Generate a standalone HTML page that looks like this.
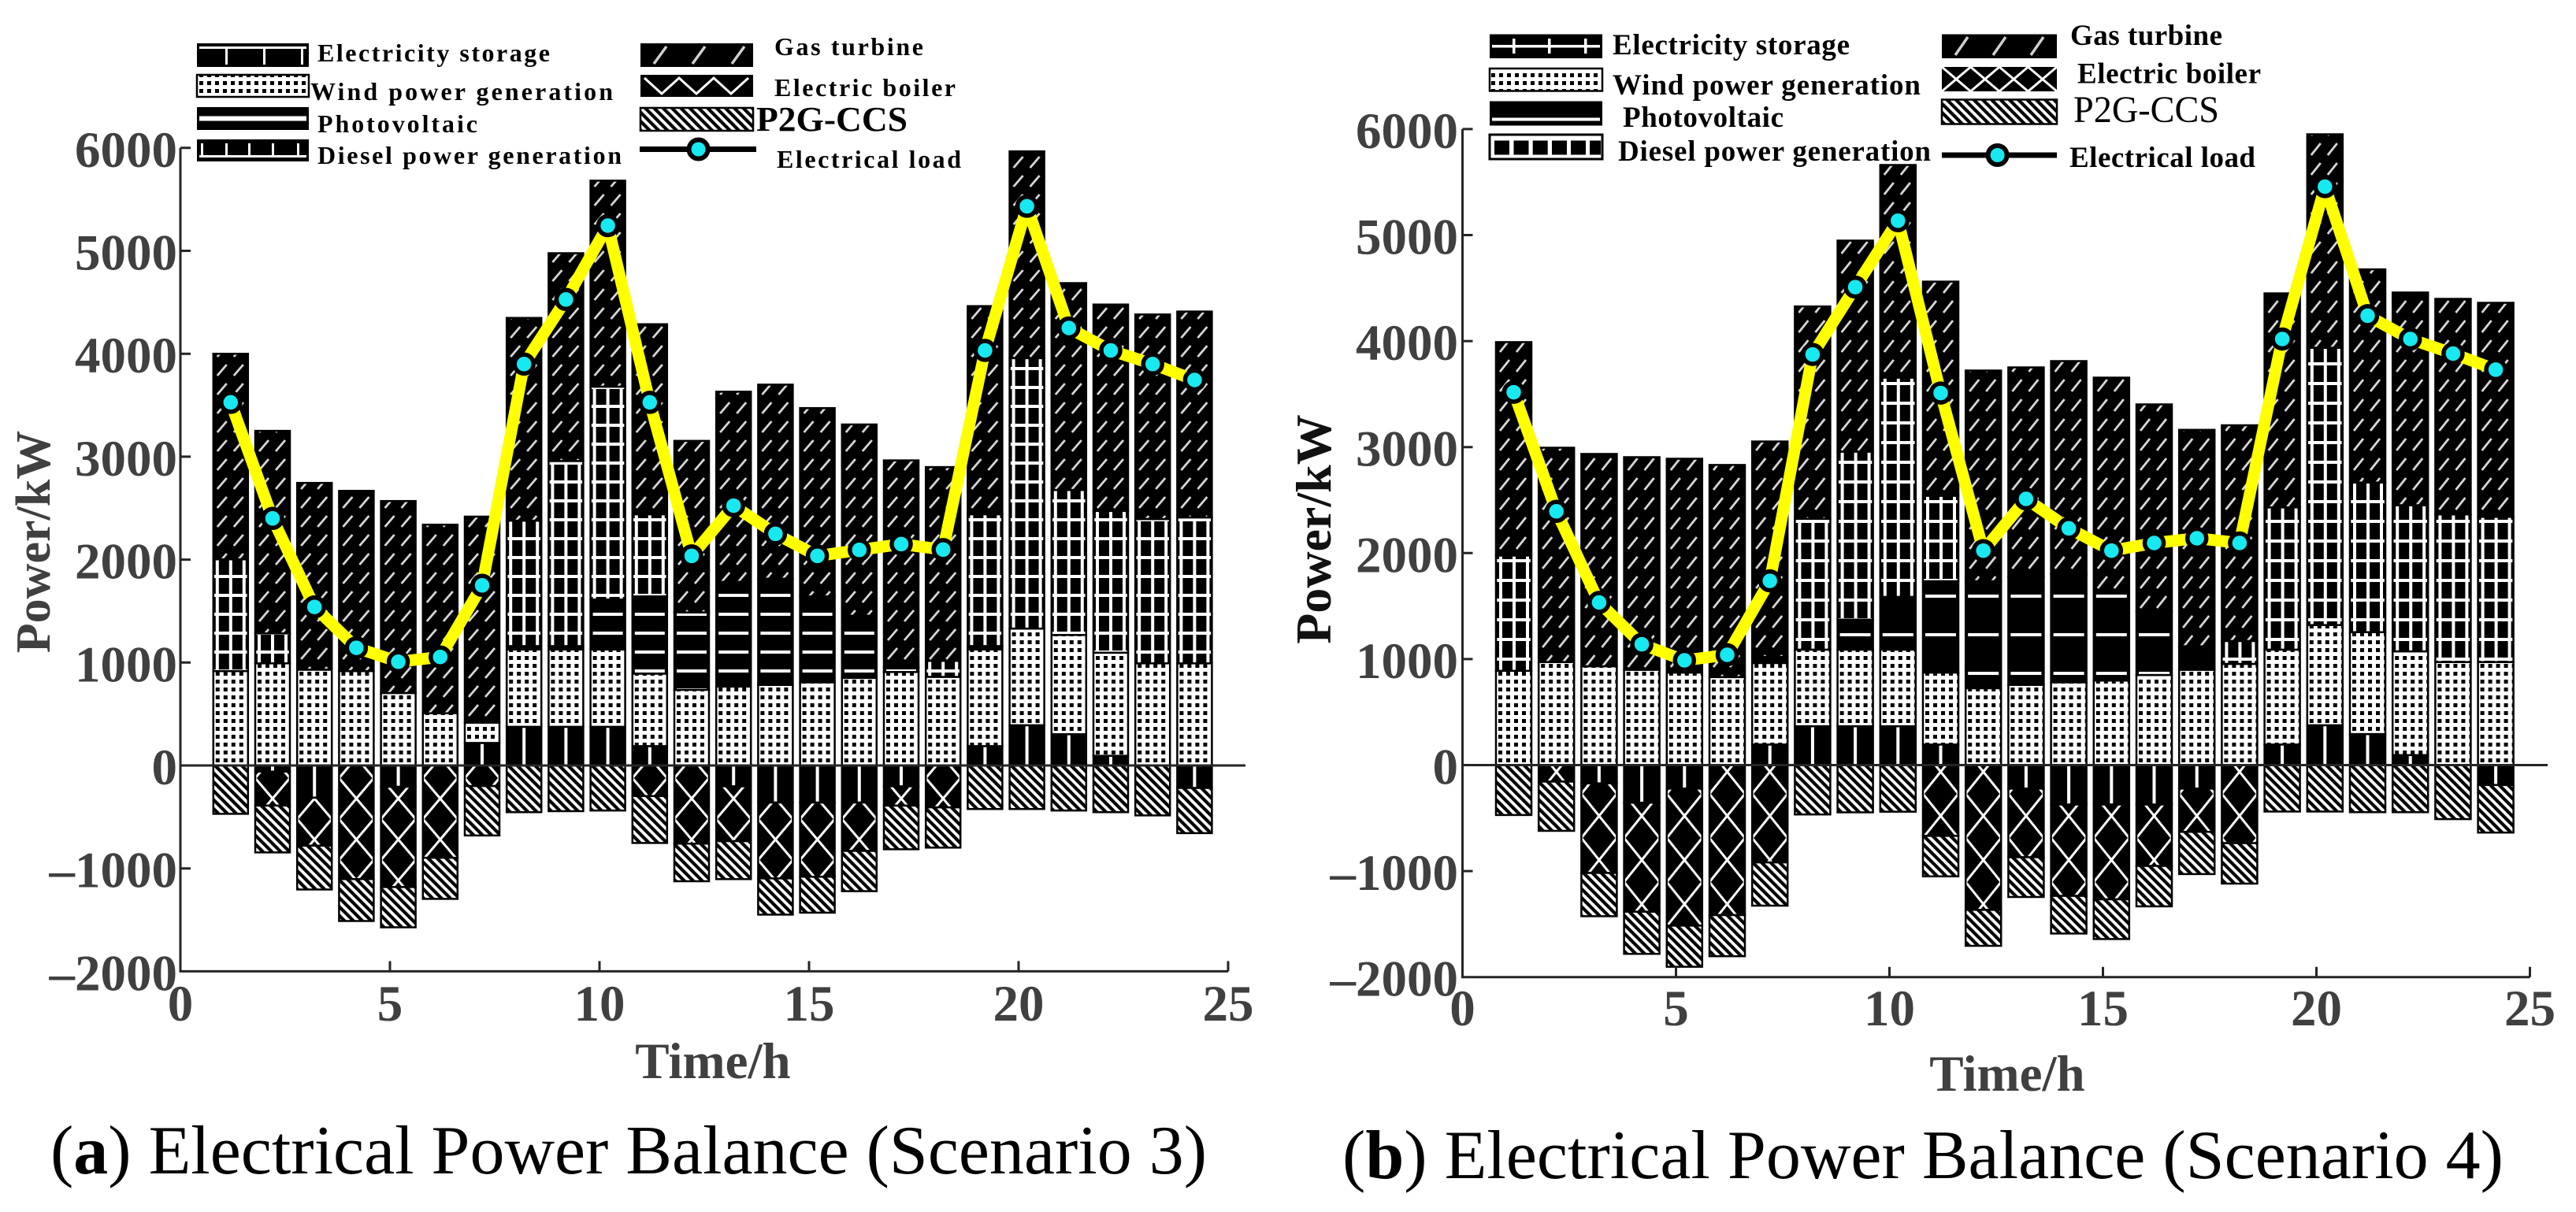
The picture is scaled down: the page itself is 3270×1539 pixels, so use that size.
<!DOCTYPE html>
<html><head><meta charset="utf-8"><style>
html,body{margin:0;padding:0;background:#fff}
svg{display:block}
text{font-family:"Liberation Serif",serif}
.tk{font-size:65px;font-weight:bold;fill:#404040}
.lg{font-size:32px;font-weight:bold;fill:#000}
.lg2{font-size:37px;font-weight:bold;fill:#000}
</style></head><body>
<svg width="3270" height="1539" viewBox="0 0 3270 1539" xmlns="http://www.w3.org/2000/svg">
<defs>
<pattern id="wd" width="10" height="10" patternUnits="userSpaceOnUse"><rect width="10" height="10" fill="#fff"/><rect x="3" y="3" width="5" height="5" fill="#000"/></pattern>
<pattern id="p2" width="8" height="8" patternUnits="userSpaceOnUse" patternTransform="rotate(-45)"><rect width="8" height="8" fill="#fff"/><rect width="4.2" height="8" fill="#000"/></pattern>
<pattern id="gtL" width="44" height="24" patternUnits="userSpaceOnUse"><rect width="44" height="24" fill="#000"/><path d="M5 21 L17 7 M26 21 L38 7" stroke="#d8d8d8" stroke-width="2.8"/></pattern>
<pattern id="gtR" width="45" height="25" patternUnits="userSpaceOnUse"><rect width="45" height="25" fill="#000"/><path d="M5 22 L17 7 M26 22 L38 7" stroke="#d8d8d8" stroke-width="2.8"/></pattern>
<pattern id="dsL" width="44" height="24" patternUnits="userSpaceOnUse"><rect width="44" height="24" fill="#000"/><rect x="3" width="4" height="24" fill="#fff"/><rect x="20" width="4" height="24" fill="#fff"/><rect x="37" width="4" height="24" fill="#fff"/><rect y="10" width="44" height="4" fill="#fff"/></pattern>
<pattern id="dsR" width="45" height="25" patternUnits="userSpaceOnUse"><rect width="45" height="25" fill="#000"/><rect x="4" width="4" height="25" fill="#fff"/><rect x="21" width="4" height="25" fill="#fff"/><rect x="38" width="4" height="25" fill="#fff"/><rect y="10" width="45" height="4" fill="#fff"/></pattern>
<pattern id="pvL" width="44" height="24" patternUnits="userSpaceOnUse"><rect width="44" height="24" fill="#000"/><rect x="3" y="10" width="38" height="4" fill="#fff"/></pattern>
<pattern id="pvR" width="45" height="49" patternUnits="userSpaceOnUse"><rect width="45" height="49" fill="#000"/><rect x="3" y="20" width="39" height="4" fill="#fff"/></pattern>
<pattern id="stL" width="44" height="400" patternUnits="userSpaceOnUse"><rect width="44" height="400" fill="#000"/><rect x="20" width="4" height="400" fill="#fff"/></pattern>
<pattern id="stR" width="45" height="400" patternUnits="userSpaceOnUse"><rect width="45" height="400" fill="#000"/><rect x="20.5" width="4" height="400" fill="#fff"/></pattern>
<pattern id="ebL" width="44" height="52" patternUnits="userSpaceOnUse"><rect width="44" height="52" fill="#000"/><path d="M0 0 L44 52 M44 0 L0 52" stroke="#fff" stroke-width="3"/></pattern>
<pattern id="ebR" width="45" height="56" patternUnits="userSpaceOnUse"><rect width="45" height="56" fill="#000"/><path d="M0 0 L45 56 M45 0 L0 56" stroke="#fff" stroke-width="3"/></pattern>
</defs>
<rect width="3270" height="1539" fill="#fff"/>

<!-- ========== LEFT PANEL BARS ========== -->
<g stroke="#000" stroke-width="2.5">
<g transform="translate(270.8,0)"><rect y="852.1" width="44" height="119.9" fill="url(#wd)"/><rect y="710.2" width="44" height="141.9" fill="url(#dsL)"/><rect y="449.2" width="44" height="261" fill="url(#gtL)"/><rect y="972" width="44" height="61.4" fill="url(#p2)"/></g>
<g transform="translate(324,0)"><rect y="842.3" width="44" height="129.7" fill="url(#wd)"/><rect y="804.3" width="44" height="38" fill="url(#dsL)"/><rect y="547.1" width="44" height="257.2" fill="url(#gtL)"/><rect y="972" width="44" height="7.8" fill="url(#stL)"/><rect y="979.8" width="44" height="43.2" fill="url(#ebL)"/><rect y="1023" width="44" height="59.4" fill="url(#p2)"/></g>
<g transform="translate(377.2,0)"><rect y="850.4" width="44" height="121.6" fill="url(#wd)"/><rect y="613.2" width="44" height="237.2" fill="url(#gtL)"/><rect y="972" width="44" height="40.9" fill="url(#stL)"/><rect y="1012.9" width="44" height="61" fill="url(#ebL)"/><rect y="1073.9" width="44" height="55.6" fill="url(#p2)"/></g>
<g transform="translate(430.4,0)"><rect y="852.1" width="44" height="119.9" fill="url(#wd)"/><rect y="623.3" width="44" height="228.8" fill="url(#gtL)"/><rect y="972" width="44" height="144.3" fill="url(#ebL)"/><rect y="1116.3" width="44" height="53.2" fill="url(#p2)"/></g>
<g transform="translate(483.6,0)"><rect y="880" width="44" height="92" fill="url(#wd)"/><rect y="636.2" width="44" height="243.8" fill="url(#gtL)"/><rect y="972" width="44" height="27.1" fill="url(#stL)"/><rect y="999.1" width="44" height="127.3" fill="url(#ebL)"/><rect y="1126.4" width="44" height="51.1" fill="url(#p2)"/></g>
<g transform="translate(536.8,0)"><rect y="905.7" width="44" height="66.3" fill="url(#wd)"/><rect y="666.2" width="44" height="239.5" fill="url(#gtL)"/><rect y="972" width="44" height="117.2" fill="url(#ebL)"/><rect y="1089.2" width="44" height="52.2" fill="url(#p2)"/></g>
<g transform="translate(590,0)"><rect y="943.4" width="44" height="28.6" fill="url(#stL)"/><rect y="917.6" width="44" height="25.8" fill="url(#wd)"/><rect y="656" width="44" height="261.6" fill="url(#gtL)"/><rect y="972" width="44" height="26.1" fill="url(#ebL)"/><rect y="998.1" width="44" height="62.8" fill="url(#p2)"/></g>
<g transform="translate(643.2,0)"><rect y="922.9" width="44" height="49.1" fill="url(#stL)"/><rect y="824.7" width="44" height="98.2" fill="url(#wd)"/><rect y="820.4" width="44" height="4.3" fill="url(#pvL)"/><rect y="661.1" width="44" height="159.3" fill="url(#dsL)"/><rect y="403.7" width="44" height="257.4" fill="url(#gtL)"/><rect y="972" width="44" height="59.3" fill="url(#p2)"/></g>
<g transform="translate(696.4,0)"><rect y="922.9" width="44" height="49.1" fill="url(#stL)"/><rect y="824.7" width="44" height="98.2" fill="url(#wd)"/><rect y="820.4" width="44" height="4.3" fill="url(#pvL)"/><rect y="585.4" width="44" height="235" fill="url(#dsL)"/><rect y="321.5" width="44" height="263.9" fill="url(#gtL)"/><rect y="972" width="44" height="58" fill="url(#p2)"/></g>
<g transform="translate(749.6,0)"><rect y="922.9" width="44" height="49.1" fill="url(#stL)"/><rect y="824.7" width="44" height="98.2" fill="url(#wd)"/><rect y="761.3" width="44" height="63.4" fill="url(#pvL)"/><rect y="491" width="44" height="270.3" fill="url(#dsL)"/><rect y="229.4" width="44" height="261.6" fill="url(#gtL)"/><rect y="972" width="44" height="57.2" fill="url(#p2)"/></g>
<g transform="translate(802.8,0)"><rect y="947.4" width="44" height="24.6" fill="url(#stL)"/><rect y="855.4" width="44" height="92" fill="url(#wd)"/><rect y="757.3" width="44" height="98.1" fill="url(#pvL)"/><rect y="653" width="44" height="104.3" fill="url(#dsL)"/><rect y="411.7" width="44" height="241.3" fill="url(#gtL)"/><rect y="972" width="44" height="38.8" fill="url(#ebL)"/><rect y="1010.8" width="44" height="59.6" fill="url(#p2)"/></g>
<g transform="translate(856,0)"><rect y="875.9" width="44" height="96.1" fill="url(#wd)"/><rect y="777.6" width="44" height="98.3" fill="url(#pvL)"/><rect y="559.8" width="44" height="217.8" fill="url(#gtL)"/><rect y="972" width="44" height="99.3" fill="url(#ebL)"/><rect y="1071.3" width="44" height="47.7" fill="url(#p2)"/></g>
<g transform="translate(909.2,0)"><rect y="871.8" width="44" height="100.2" fill="url(#wd)"/><rect y="738.8" width="44" height="133" fill="url(#pvL)"/><rect y="497.4" width="44" height="241.4" fill="url(#gtL)"/><rect y="972" width="44" height="26.5" fill="url(#stL)"/><rect y="998.5" width="44" height="69.6" fill="url(#ebL)"/><rect y="1068.1" width="44" height="48.2" fill="url(#p2)"/></g>
<g transform="translate(962.4,0)"><rect y="869.7" width="44" height="102.3" fill="url(#wd)"/><rect y="734.8" width="44" height="134.9" fill="url(#pvL)"/><rect y="488.4" width="44" height="246.4" fill="url(#gtL)"/><rect y="972" width="44" height="47.1" fill="url(#stL)"/><rect y="1019.1" width="44" height="96.3" fill="url(#ebL)"/><rect y="1115.4" width="44" height="46" fill="url(#p2)"/></g>
<g transform="translate(1015.6,0)"><rect y="866.4" width="44" height="105.6" fill="url(#wd)"/><rect y="757.3" width="44" height="109.1" fill="url(#pvL)"/><rect y="518.2" width="44" height="239.1" fill="url(#gtL)"/><rect y="972" width="44" height="47.1" fill="url(#stL)"/><rect y="1019.1" width="44" height="94.2" fill="url(#ebL)"/><rect y="1113.3" width="44" height="45.6" fill="url(#p2)"/></g>
<g transform="translate(1068.8,0)"><rect y="860.8" width="44" height="111.2" fill="url(#wd)"/><rect y="781.8" width="44" height="79" fill="url(#pvL)"/><rect y="539" width="44" height="242.8" fill="url(#gtL)"/><rect y="972" width="44" height="47.1" fill="url(#stL)"/><rect y="1019.1" width="44" height="61.4" fill="url(#ebL)"/><rect y="1080.5" width="44" height="51.1" fill="url(#p2)"/></g>
<g transform="translate(1122,0)"><rect y="853.3" width="44" height="118.7" fill="url(#wd)"/><rect y="847.2" width="44" height="6.1" fill="url(#pvL)"/><rect y="584.6" width="44" height="262.6" fill="url(#gtL)"/><rect y="972" width="44" height="26.5" fill="url(#stL)"/><rect y="998.5" width="44" height="24.5" fill="url(#ebL)"/><rect y="1023" width="44" height="55.4" fill="url(#p2)"/></g>
<g transform="translate(1175.2,0)"><rect y="859.5" width="44" height="112.5" fill="url(#wd)"/><rect y="839.1" width="44" height="20.4" fill="url(#dsL)"/><rect y="593.1" width="44" height="246" fill="url(#gtL)"/><rect y="972" width="44" height="53.2" fill="url(#ebL)"/><rect y="1025.2" width="44" height="51.1" fill="url(#p2)"/></g>
<g transform="translate(1228.4,0)"><rect y="947.4" width="44" height="24.6" fill="url(#stL)"/><rect y="824.7" width="44" height="122.7" fill="url(#wd)"/><rect y="820.4" width="44" height="4.3" fill="url(#pvL)"/><rect y="653" width="44" height="167.4" fill="url(#dsL)"/><rect y="388.7" width="44" height="264.3" fill="url(#gtL)"/><rect y="972" width="44" height="55.3" fill="url(#p2)"/></g>
<g transform="translate(1281.6,0)"><rect y="920.9" width="44" height="51.1" fill="url(#stL)"/><rect y="798.2" width="44" height="122.7" fill="url(#wd)"/><rect y="454.8" width="44" height="343.4" fill="url(#dsL)"/><rect y="192.2" width="44" height="262.6" fill="url(#gtL)"/><rect y="972" width="44" height="55.3" fill="url(#p2)"/></g>
<g transform="translate(1334.8,0)"><rect y="932.3" width="44" height="39.7" fill="url(#stL)"/><rect y="806.3" width="44" height="126" fill="url(#wd)"/><rect y="622.2" width="44" height="184.1" fill="url(#dsL)"/><rect y="359.5" width="44" height="262.7" fill="url(#gtL)"/><rect y="972" width="44" height="57.2" fill="url(#p2)"/></g>
<g transform="translate(1388,0)"><rect y="959.7" width="44" height="12.3" fill="url(#stL)"/><rect y="828.8" width="44" height="130.9" fill="url(#wd)"/><rect y="648.8" width="44" height="180" fill="url(#dsL)"/><rect y="386.7" width="44" height="262.1" fill="url(#gtL)"/><rect y="972" width="44" height="59.3" fill="url(#p2)"/></g>
<g transform="translate(1441.2,0)"><rect y="842.3" width="44" height="129.7" fill="url(#wd)"/><rect y="659.1" width="44" height="183.2" fill="url(#dsL)"/><rect y="399.3" width="44" height="259.8" fill="url(#gtL)"/><rect y="972" width="44" height="63.4" fill="url(#p2)"/></g>
<g transform="translate(1494.4,0)"><rect y="842.3" width="44" height="129.7" fill="url(#wd)"/><rect y="657" width="44" height="185.3" fill="url(#dsL)"/><rect y="395.6" width="44" height="261.4" fill="url(#gtL)"/><rect y="972" width="44" height="28.6" fill="url(#stL)"/><rect y="1000.6" width="44" height="57.3" fill="url(#p2)"/></g>
</g>

<!-- ========== RIGHT PANEL BARS ========== -->
<g stroke="#000" stroke-width="2.5">
<g transform="translate(1899,0)"><rect y="851.8" width="45" height="119.7" fill="url(#wd)"/><rect y="705.4" width="45" height="146.4" fill="url(#dsR)"/><rect y="434.4" width="45" height="271" fill="url(#gtR)"/><rect y="971.5" width="45" height="63.4" fill="url(#p2)"/></g>
<g transform="translate(1953.2,0)"><rect y="840.7" width="45" height="130.8" fill="url(#wd)"/><rect y="568.5" width="45" height="272.2" fill="url(#gtR)"/><rect y="971.5" width="45" height="21" fill="url(#ebR)"/><rect y="992.5" width="45" height="62.5" fill="url(#p2)"/></g>
<g transform="translate(2007.4,0)"><rect y="846" width="45" height="125.5" fill="url(#wd)"/><rect y="576.4" width="45" height="269.6" fill="url(#gtR)"/><rect y="971.5" width="45" height="23.2" fill="url(#stR)"/><rect y="994.7" width="45" height="113.8" fill="url(#ebR)"/><rect y="1108.5" width="45" height="54.9" fill="url(#p2)"/></g>
<g transform="translate(2061.6,0)"><rect y="850.5" width="45" height="121" fill="url(#wd)"/><rect y="580.5" width="45" height="270" fill="url(#gtR)"/><rect y="971.5" width="45" height="47.8" fill="url(#stR)"/><rect y="1019.3" width="45" height="138.4" fill="url(#ebR)"/><rect y="1157.7" width="45" height="53.5" fill="url(#p2)"/></g>
<g transform="translate(2115.8,0)"><rect y="854" width="45" height="117.5" fill="url(#wd)"/><rect y="582.5" width="45" height="271.5" fill="url(#gtR)"/><rect y="971.5" width="45" height="29.9" fill="url(#stR)"/><rect y="1001.4" width="45" height="174" fill="url(#ebR)"/><rect y="1175.4" width="45" height="52.2" fill="url(#p2)"/></g>
<g transform="translate(2170,0)"><rect y="859.8" width="45" height="111.7" fill="url(#wd)"/><rect y="590.4" width="45" height="269.4" fill="url(#gtR)"/><rect y="971.5" width="45" height="190.5" fill="url(#ebR)"/><rect y="1162" width="45" height="52.2" fill="url(#p2)"/></g>
<g transform="translate(2224.2,0)"><rect y="945.4" width="45" height="26.1" fill="url(#stR)"/><rect y="841.9" width="45" height="103.5" fill="url(#wd)"/><rect y="834.2" width="45" height="7.7" fill="url(#pvR)"/><rect y="560.6" width="45" height="273.6" fill="url(#gtR)"/><rect y="971.5" width="45" height="123.6" fill="url(#ebR)"/><rect y="1095.1" width="45" height="54.9" fill="url(#p2)"/></g>
<g transform="translate(2278.4,0)"><rect y="922.2" width="45" height="49.3" fill="url(#stR)"/><rect y="824.9" width="45" height="97.3" fill="url(#wd)"/><rect y="658.8" width="45" height="166.1" fill="url(#dsR)"/><rect y="389.1" width="45" height="269.7" fill="url(#gtR)"/><rect y="971.5" width="45" height="62.7" fill="url(#p2)"/></g>
<g transform="translate(2332.6,0)"><rect y="922.2" width="45" height="49.3" fill="url(#stR)"/><rect y="824.9" width="45" height="97.3" fill="url(#wd)"/><rect y="786.8" width="45" height="38.1" fill="url(#pvR)"/><rect y="573.5" width="45" height="213.3" fill="url(#dsR)"/><rect y="305.5" width="45" height="268" fill="url(#gtR)"/><rect y="971.5" width="45" height="60" fill="url(#p2)"/></g>
<g transform="translate(2386.8,0)"><rect y="922.2" width="45" height="49.3" fill="url(#stR)"/><rect y="824.9" width="45" height="97.3" fill="url(#wd)"/><rect y="757.9" width="45" height="67" fill="url(#pvR)"/><rect y="479.5" width="45" height="278.4" fill="url(#dsR)"/><rect y="209.5" width="45" height="270" fill="url(#gtR)"/><rect y="971.5" width="45" height="59.2" fill="url(#p2)"/></g>
<g transform="translate(2441,0)"><rect y="945.4" width="45" height="26.1" fill="url(#stR)"/><rect y="854" width="45" height="91.4" fill="url(#wd)"/><rect y="738" width="45" height="116" fill="url(#pvR)"/><rect y="629.5" width="45" height="108.5" fill="url(#dsR)"/><rect y="357.6" width="45" height="271.9" fill="url(#gtR)"/><rect y="971.5" width="45" height="89.9" fill="url(#ebR)"/><rect y="1061.4" width="45" height="51.4" fill="url(#p2)"/></g>
<g transform="translate(2495.2,0)"><rect y="873.9" width="45" height="97.6" fill="url(#wd)"/><rect y="738" width="45" height="135.9" fill="url(#pvR)"/><rect y="470.5" width="45" height="267.5" fill="url(#gtR)"/><rect y="971.5" width="45" height="183.9" fill="url(#ebR)"/><rect y="1155.4" width="45" height="45.6" fill="url(#p2)"/></g>
<g transform="translate(2549.4,0)"><rect y="869.6" width="45" height="101.9" fill="url(#wd)"/><rect y="732.4" width="45" height="137.2" fill="url(#pvR)"/><rect y="466.5" width="45" height="265.9" fill="url(#gtR)"/><rect y="971.5" width="45" height="29.9" fill="url(#stR)"/><rect y="1001.4" width="45" height="87.1" fill="url(#ebR)"/><rect y="1088.5" width="45" height="50.5" fill="url(#p2)"/></g>
<g transform="translate(2603.6,0)"><rect y="866.4" width="45" height="105.1" fill="url(#wd)"/><rect y="729" width="45" height="137.4" fill="url(#pvR)"/><rect y="458.5" width="45" height="270.5" fill="url(#gtR)"/><rect y="971.5" width="45" height="50.1" fill="url(#stR)"/><rect y="1021.6" width="45" height="116" fill="url(#ebR)"/><rect y="1137.6" width="45" height="47.8" fill="url(#p2)"/></g>
<g transform="translate(2657.8,0)"><rect y="864.2" width="45" height="107.3" fill="url(#wd)"/><rect y="751.3" width="45" height="112.9" fill="url(#pvR)"/><rect y="479.5" width="45" height="271.8" fill="url(#gtR)"/><rect y="971.5" width="45" height="50.1" fill="url(#stR)"/><rect y="1021.6" width="45" height="120.4" fill="url(#ebR)"/><rect y="1142" width="45" height="50.4" fill="url(#p2)"/></g>
<g transform="translate(2712,0)"><rect y="857.1" width="45" height="114.4" fill="url(#wd)"/><rect y="776.3" width="45" height="80.8" fill="url(#pvR)"/><rect y="513.5" width="45" height="262.8" fill="url(#gtR)"/><rect y="971.5" width="45" height="50.1" fill="url(#stR)"/><rect y="1021.6" width="45" height="78" fill="url(#ebR)"/><rect y="1099.6" width="45" height="51.3" fill="url(#p2)"/></g>
<g transform="translate(2766.2,0)"><rect y="850.5" width="45" height="121" fill="url(#wd)"/><rect y="820.6" width="45" height="29.9" fill="url(#pvR)"/><rect y="545.8" width="45" height="274.8" fill="url(#gtR)"/><rect y="971.5" width="45" height="29.9" fill="url(#stR)"/><rect y="1001.4" width="45" height="54.9" fill="url(#ebR)"/><rect y="1056.3" width="45" height="53.6" fill="url(#p2)"/></g>
<g transform="translate(2820.4,0)"><rect y="843" width="45" height="128.5" fill="url(#wd)"/><rect y="813.9" width="45" height="29.1" fill="url(#dsR)"/><rect y="540" width="45" height="273.9" fill="url(#gtR)"/><rect y="971.5" width="45" height="99.1" fill="url(#ebR)"/><rect y="1070.6" width="45" height="51.4" fill="url(#p2)"/></g>
<g transform="translate(2874.6,0)"><rect y="945.4" width="45" height="26.1" fill="url(#stR)"/><rect y="824.9" width="45" height="120.5" fill="url(#wd)"/><rect y="644.3" width="45" height="180.6" fill="url(#dsR)"/><rect y="372.5" width="45" height="271.8" fill="url(#gtR)"/><rect y="971.5" width="45" height="59" fill="url(#p2)"/></g>
<g transform="translate(2928.8,0)"><rect y="920.9" width="45" height="50.6" fill="url(#stR)"/><rect y="793.7" width="45" height="127.2" fill="url(#wd)"/><rect y="441.6" width="45" height="352.1" fill="url(#dsR)"/><rect y="170.5" width="45" height="271.1" fill="url(#gtR)"/><rect y="971.5" width="45" height="59" fill="url(#p2)"/></g>
<g transform="translate(2983,0)"><rect y="932.1" width="45" height="39.4" fill="url(#stR)"/><rect y="802.7" width="45" height="129.4" fill="url(#wd)"/><rect y="612.7" width="45" height="190" fill="url(#dsR)"/><rect y="342" width="45" height="270.7" fill="url(#gtR)"/><rect y="971.5" width="45" height="59.8" fill="url(#p2)"/></g>
<g transform="translate(3037.2,0)"><rect y="958.8" width="45" height="12.7" fill="url(#stR)"/><rect y="827.1" width="45" height="131.7" fill="url(#wd)"/><rect y="641.5" width="45" height="185.6" fill="url(#dsR)"/><rect y="371.4" width="45" height="270.1" fill="url(#gtR)"/><rect y="971.5" width="45" height="59.8" fill="url(#p2)"/></g>
<g transform="translate(3091.4,0)"><rect y="840.7" width="45" height="130.8" fill="url(#wd)"/><rect y="653.2" width="45" height="187.5" fill="url(#dsR)"/><rect y="379.5" width="45" height="273.7" fill="url(#gtR)"/><rect y="971.5" width="45" height="68.6" fill="url(#p2)"/></g>
<g transform="translate(3145.6,0)"><rect y="840.7" width="45" height="130.8" fill="url(#wd)"/><rect y="656.3" width="45" height="184.4" fill="url(#dsR)"/><rect y="384.5" width="45" height="271.8" fill="url(#gtR)"/><rect y="971.5" width="45" height="25.3" fill="url(#stR)"/><rect y="996.8" width="45" height="60.4" fill="url(#p2)"/></g>
</g>

<!-- ========== AXES LEFT ========== -->
<g stroke="#262626" stroke-width="3" fill="none">
<path d="M229 187.8 V1233.4 H1559"/>
<path d="M229 972 H1581"/>
<path d="M229 187.8 h13 M229 318.5 h13 M229 449.2 h13 M229 579.9 h13 M229 710.6 h13 M229 841.3 h13 M229 1102.7 h13"/>
<path d="M495 1233.4 v-13 M761 1233.4 v-13 M1027 1233.4 v-13 M1293 1233.4 v-13 M1559 1233.4 v-13"/>
</g>
<g class="tk" text-anchor="end">
<text x="225" y="211.8">6000</text><text x="225" y="342.5">5000</text><text x="225" y="473.2">4000</text><text x="225" y="603.9">3000</text><text x="225" y="734.6">2000</text><text x="225" y="865.3">1000</text><text x="225" y="996">0</text><text x="225" y="1126.7">–1000</text><text x="225" y="1257.4">–2000</text>
</g>
<g class="tk" text-anchor="middle">
<text x="229" y="1296">0</text><text x="495" y="1296">5</text><text x="761" y="1296">10</text><text x="1027" y="1296">15</text><text x="1293" y="1296">20</text><text x="1559" y="1296">25</text>
<text x="905" y="1369">Time/h</text>
</g>
<text transform="translate(63,688) rotate(-90)" text-anchor="middle" style="font-size:62px;font-weight:bold;fill:#404040">Power/kW</text>

<!-- ========== AXES RIGHT ========== -->
<g stroke="#262626" stroke-width="3" fill="none">
<path d="M1856.5 163.9 V1240.7 H3211.5"/>
<path d="M1856.5 971.5 H3234"/>
<path d="M1856.5 163.9 h13 M1856.5 298.5 h13 M1856.5 433.1 h13 M1856.5 567.7 h13 M1856.5 702.3 h13 M1856.5 836.9 h13 M1856.5 1106.1 h13"/>
<path d="M2127.5 1240.7 v-13 M2398.5 1240.7 v-13 M2669.5 1240.7 v-13 M2940.5 1240.7 v-13 M3211.5 1240.7 v-13"/>
</g>
<g class="tk" text-anchor="end">
<text x="1851" y="187.9">6000</text><text x="1851" y="322.5">5000</text><text x="1851" y="457.1">4000</text><text x="1851" y="591.7">3000</text><text x="1851" y="726.3">2000</text><text x="1851" y="860.9">1000</text><text x="1851" y="995.5">0</text><text x="1851" y="1130.1">–1000</text><text x="1851" y="1264.7">–2000</text>
</g>
<g class="tk" text-anchor="middle">
<text x="1856.5" y="1302">0</text><text x="2127.5" y="1302">5</text><text x="2398.5" y="1302">10</text><text x="2669.5" y="1302">15</text><text x="2940.5" y="1302">20</text><text x="3211.5" y="1302">25</text>
<text x="2548" y="1385">Time/h</text>
</g>
<text transform="translate(1689,672) rotate(-90)" text-anchor="middle" style="font-size:64px;font-weight:bold;fill:#111">Power/kW</text>

<!-- ========== LOAD LINES ========== -->
<polyline fill="none" stroke="#ffff00" stroke-width="15" stroke-linejoin="round" points="292.8,510.9 346,658.3 399.2,770.7 452.4,822.6 505.6,840.3 558.8,834.2 612,743.3 665.2,462.3 718.4,380.3 771.6,286.5 824.8,510.9 878,705.9 931.2,642.1 984.4,677.9 1037.6,705.9 1090.8,698.3 1144,690.9 1197.2,697.9 1250.4,445 1303.6,261.9 1356.8,416.5 1410,445 1463.2,462.3 1516.4,482.5"/>
<g fill="#18e8f0" stroke="#000" stroke-width="5.5">
<circle cx="292.8" cy="510.9" r="12"/><circle cx="346" cy="658.3" r="12"/><circle cx="399.2" cy="770.7" r="12"/><circle cx="452.4" cy="822.6" r="12"/><circle cx="505.6" cy="840.3" r="12"/><circle cx="558.8" cy="834.2" r="12"/><circle cx="612" cy="743.3" r="12"/><circle cx="665.2" cy="462.3" r="12"/><circle cx="718.4" cy="380.3" r="12"/><circle cx="771.6" cy="286.5" r="12"/><circle cx="824.8" cy="510.9" r="12"/><circle cx="878" cy="705.9" r="12"/><circle cx="931.2" cy="642.1" r="12"/><circle cx="984.4" cy="677.9" r="12"/><circle cx="1037.6" cy="705.9" r="12"/><circle cx="1090.8" cy="698.3" r="12"/><circle cx="1144" cy="690.9" r="12"/><circle cx="1197.2" cy="697.9" r="12"/><circle cx="1250.4" cy="445" r="12"/><circle cx="1303.6" cy="261.9" r="12"/><circle cx="1356.8" cy="416.5" r="12"/><circle cx="1410" cy="445" r="12"/><circle cx="1463.2" cy="462.3" r="12"/><circle cx="1516.4" cy="482.5" r="12"/>
</g>
<polyline fill="none" stroke="#ffff00" stroke-width="15" stroke-linejoin="round" points="1921.5,498.1 1975.7,649.3 2029.9,765 2084.1,818.1 2138.3,838.5 2192.5,831.5 2246.7,737.6 2300.9,450.1 2355.1,364.6 2409.3,280.2 2463.5,499.1 2517.7,699.2 2571.9,633.5 2626.1,670.9 2680.3,699.2 2734.5,689.5 2788.7,683.5 2842.9,689.5 2897.1,430.5 2951.3,237 3005.5,400.9 3059.7,430.5 3113.9,449 3168.1,469.4"/>
<g fill="#18e8f0" stroke="#000" stroke-width="5.5">
<circle cx="1921.5" cy="498.1" r="12"/><circle cx="1975.7" cy="649.3" r="12"/><circle cx="2029.9" cy="765" r="12"/><circle cx="2084.1" cy="818.1" r="12"/><circle cx="2138.3" cy="838.5" r="12"/><circle cx="2192.5" cy="831.5" r="12"/><circle cx="2246.7" cy="737.6" r="12"/><circle cx="2300.9" cy="450.1" r="12"/><circle cx="2355.1" cy="364.6" r="12"/><circle cx="2409.3" cy="280.2" r="12"/><circle cx="2463.5" cy="499.1" r="12"/><circle cx="2517.7" cy="699.2" r="12"/><circle cx="2571.9" cy="633.5" r="12"/><circle cx="2626.1" cy="670.9" r="12"/><circle cx="2680.3" cy="699.2" r="12"/><circle cx="2734.5" cy="689.5" r="12"/><circle cx="2788.7" cy="683.5" r="12"/><circle cx="2842.9" cy="689.5" r="12"/><circle cx="2897.1" cy="430.5" r="12"/><circle cx="2951.3" cy="237" r="12"/><circle cx="3005.5" cy="400.9" r="12"/><circle cx="3059.7" cy="430.5" r="12"/><circle cx="3113.9" cy="449" r="12"/><circle cx="3168.1" cy="469.4" r="12"/>
</g>

<!-- ========== LEFT LEGEND ========== -->
<rect x="250" y="55" width="142" height="30" fill="#000"/>
<rect x="253" y="59" width="136" height="3" fill="#fff"/>
<rect x="286" y="59" width="3" height="23" fill="#fff"/><rect x="334" y="59" width="3" height="23" fill="#fff"/><rect x="382" y="59" width="3" height="23" fill="#fff"/>
<rect x="250" y="95" width="142" height="28" fill="url(#wd)" stroke="#000" stroke-width="2.5"/>
<rect x="250" y="136" width="142" height="29" fill="#000"/>
<rect x="253" y="147.5" width="136" height="6" fill="#fff"/>
<rect x="250" y="177" width="142" height="28" fill="#000"/>
<rect x="253" y="197" width="136" height="3" fill="#fff"/>
<rect x="255" y="182" width="3" height="18" fill="#fff"/><rect x="286" y="182" width="3" height="18" fill="#fff"/><rect x="315" y="182" width="3" height="18" fill="#fff"/><rect x="345" y="182" width="3" height="18" fill="#fff"/><rect x="377" y="182" width="3" height="18" fill="#fff"/>
<rect x="813" y="55" width="143" height="30" fill="#000"/>
<path d="M830 81 L846 59 M879 81 L895 59 M929 81 L945 59" stroke="#cfcfcf" stroke-width="3.5"/>
<rect x="813" y="95" width="143" height="28" fill="#000"/>
<polyline points="818,99 840,119 862,99 884,119 906,99 928,119 950,99" fill="none" stroke="#fff" stroke-width="3"/>
<rect x="813" y="137" width="143" height="29" fill="url(#p2)" stroke="#000" stroke-width="2.5"/>
<line x1="812" y1="189.5" x2="960" y2="189.5" stroke="#000" stroke-width="7"/>
<circle cx="886.6" cy="189.5" r="12" fill="#18e8f0" stroke="#000" stroke-width="6"/>
<text class="lg" x="403" y="78" textLength="295" lengthAdjust="spacing">Electricity storage</text>
<text class="lg" x="394" y="127" textLength="384" lengthAdjust="spacing">Wind power generation</text>
<text class="lg" x="403" y="168" textLength="203" lengthAdjust="spacing">Photovoltaic</text>
<text class="lg" x="403" y="208" textLength="386" lengthAdjust="spacing">Diesel power generation</text>
<text class="lg" x="983" y="70" textLength="189" lengthAdjust="spacing">Gas turbine</text>
<text class="lg" x="983" y="122" textLength="230" lengthAdjust="spacing">Electric boiler</text>
<text x="960" y="166" textLength="192" lengthAdjust="spacingAndGlyphs" style="font-size:44px;font-weight:bold">P2G-CCS</text>
<text class="lg" x="986" y="213" textLength="234" lengthAdjust="spacing">Electrical load</text>

<!-- ========== RIGHT LEGEND ========== -->
<rect x="1891" y="43.5" width="143" height="30.5" fill="#000"/>
<rect x="1894" y="57" width="137" height="3.5" fill="#fff"/>
<rect x="1920" y="49" width="3.5" height="19" fill="#fff"/><rect x="1965" y="49" width="3.5" height="19" fill="#fff"/><rect x="2011" y="49" width="3.5" height="19" fill="#fff"/>
<rect x="1891" y="87" width="143" height="28.5" fill="url(#wd)" stroke="#000" stroke-width="2.5"/>
<rect x="1891" y="128.5" width="143" height="31" fill="#000"/>
<rect x="1894" y="149.5" width="137" height="4" fill="#fff"/>
<rect x="1891" y="171" width="143" height="31" fill="#fff" stroke="#000" stroke-width="3"/>
<rect x="1897" y="178.5" width="19" height="18" fill="#000"/><rect x="1921.5" y="178.5" width="19" height="18" fill="#000"/><rect x="1945.7" y="178.5" width="19" height="18" fill="#000"/><rect x="1970" y="178.5" width="19" height="18" fill="#000"/><rect x="1994" y="178.5" width="19" height="18" fill="#000"/><rect x="2018" y="178.5" width="14" height="18" fill="#000"/>
<rect x="2465" y="43.5" width="146" height="30.5" fill="#000"/>
<path d="M2482 70 L2498 47 M2530 70 L2546 47 M2578 70 L2594 47" stroke="#cfcfcf" stroke-width="3.5"/>
<rect x="2465" y="85" width="146" height="31" fill="#000"/>
<path d="M2465 85 L2501.5 116 M2501.5 85 L2465 116 M2501.5 85 L2538 116 M2538 85 L2501.5 116 M2538 85 L2574.5 116 M2574.5 85 L2538 116 M2574.5 85 L2611 116 M2611 85 L2574.5 116" stroke="#fff" stroke-width="3"/>
<rect x="2465" y="126.5" width="146" height="31" fill="url(#p2)" stroke="#000" stroke-width="2.5"/>
<line x1="2465" y1="197" x2="2611" y2="197" stroke="#000" stroke-width="7"/>
<circle cx="2535.6" cy="197" r="12" fill="#18e8f0" stroke="#000" stroke-width="6"/>
<text class="lg2" x="2047" y="69" textLength="301" lengthAdjust="spacing">Electricity storage</text>
<text class="lg2" x="2047" y="120" textLength="391" lengthAdjust="spacing">Wind power generation</text>
<text class="lg2" x="2060" y="161" textLength="204" lengthAdjust="spacing">Photovoltaic</text>
<text class="lg2" x="2054" y="204" textLength="397" lengthAdjust="spacing">Diesel power generation</text>
<text class="lg2" x="2628" y="57" textLength="193" lengthAdjust="spacing">Gas turbine</text>
<text class="lg2" x="2637" y="105.5" textLength="233" lengthAdjust="spacing">Electric boiler</text>
<text x="2632" y="155" textLength="185" lengthAdjust="spacingAndGlyphs" style="font-size:48px">P2G-CCS</text>
<text class="lg2" x="2627" y="212" textLength="236" lengthAdjust="spacing">Electrical load</text>

<!-- ========== CAPTIONS ========== -->
<text x="64" y="1490" textLength="1468" lengthAdjust="spacingAndGlyphs" style="font-size:88px;fill:#000">(<tspan font-weight="bold">a</tspan>) Electrical Power Balance (Scenario 3)</text>
<text x="1704" y="1496" textLength="1474" lengthAdjust="spacingAndGlyphs" style="font-size:88px;fill:#000">(<tspan font-weight="bold">b</tspan>) Electrical Power Balance (Scenario 4)</text>
</svg>
</body></html>
